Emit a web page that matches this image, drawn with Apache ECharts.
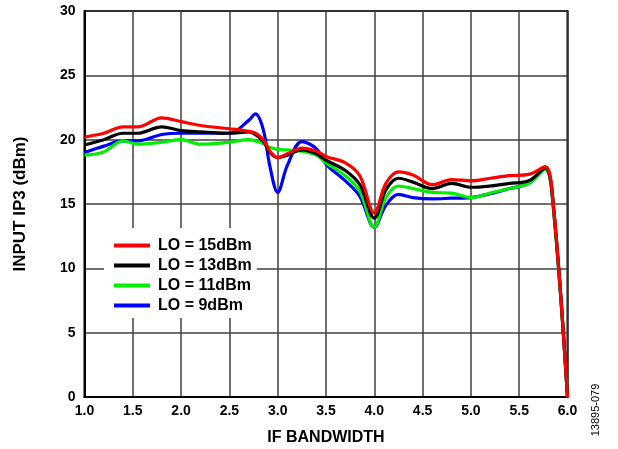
<!DOCTYPE html>
<html>
<head>
<meta charset="utf-8">
<script src="https://cdn.jsdelivr.net/npm/echarts@6/dist/echarts.min.js"></script>
<style>
  html, body { margin: 0; padding: 0; background: #fff; }
  #chart { width: 618px; height: 449px; }
</style>
</head>
<body>
<div id="chart"></div>
<script>
// IF bandwidth sample points (shared by all curves)
const bandwidth = [1.0, 1.2, 1.4, 1.55, 1.8, 2.0, 2.2, 2.5, 2.7, 2.77, 2.85, 2.92, 3.0, 3.1, 3.25, 3.4, 3.5, 3.7, 3.85, 4.0,
                   4.12, 4.25, 4.4, 4.6, 4.8, 5.0, 5.2, 5.4, 5.6, 5.77, 5.85, 6.0];

const lo15 = [20.2, 20.5, 21.0, 21.0, 21.7, 21.4, 21.1, 20.85, 20.65, 20.5, 20.0, 19.1, 18.6, 18.9, 19.35, 19.1, 18.7, 18.2, 17.2, 14.3,
              16.6, 17.5, 17.25, 16.5, 16.9, 16.8, 17.0, 17.2, 17.3, 17.9, 15.2, 0];
const lo13 = [19.6, 20.0, 20.5, 20.5, 21.0, 20.7, 20.6, 20.5, 20.6, 20.4, 19.9, 19.0, 18.6, 18.8, 19.2, 18.9, 18.4, 17.6, 16.5, 13.9,
              16.1, 17.0, 16.7, 16.2, 16.6, 16.3, 16.4, 16.6, 16.8, 17.8, 15.2, 0];
const lo11 = [18.8, 19.05, 19.9, 19.65, 19.8, 20.0, 19.65, 19.8, 20.0, 19.9, 19.7, 19.4, 19.25, 19.2, 19.1, 18.8, 18.2, 17.2, 16.0, 13.2,
              15.5, 16.4, 16.2, 15.9, 15.85, 15.5, 15.85, 16.2, 16.6, 17.7, 15.0, 0];
const lo9  = [19.0, 19.5, 19.9, 19.9, 20.4, 20.5, 20.5, 20.5, 21.5, 22.0, 20.8, 17.9, 15.9, 18.0, 19.85, 19.3, 18.1, 16.8, 15.6, 13.2,
              14.9, 15.75, 15.5, 15.4, 15.45, 15.5, 15.8, 16.2, 16.6, 17.7, 15.0, 0];

const seriesNames = ['LO = 15dBm', 'LO = 13dBm', 'LO = 11dBm', 'LO = 9dBm'];
const seriesColors = ['#ff0000', '#000000', '#00ee00', '#0000ff'];
const seriesValues = [lo15, lo13, lo11, lo9];

const font = 'Liberation Sans, Arial, sans-serif';

let myChart = echarts.init(document.getElementById('chart'));

// red is drawn on top, blue at the bottom
let series = seriesValues.map((vals, i) => ({
    name: seriesNames[i],
    type: 'line',
    smooth: 0.35,
    symbol: 'none',
    z: 10 - i,
    lineStyle: {color: seriesColors[i], width: 3.2},
    itemStyle: {color: seriesColors[i]},
    data: bandwidth.map((x, j) => [x, vals[j]])
}));

let option = {
    animation: false,
    backgroundColor: '#fff',
    textStyle: {fontFamily: font},
    grid: {
        left: 84.5,
        right: 50.5,
        top: 11,
        bottom: 52,
        outerBoundsMode: 'none',
        containLabel: false,
        show: true,
        borderColor: '#000',
        borderWidth: 2
    },
    legend: {
        data: seriesNames,
        orient: 'vertical',
        left: 104,
        top: 228,
        padding: [9, 5, 4, 10],
        backgroundColor: '#fff',
        itemWidth: 36,
        itemHeight: 4,
        itemGap: 3,
        icon: 'rect',
        textStyle: {
            fontFamily: font,
            fontWeight: 'bold',
            fontSize: 16,
            lineHeight: 17,
            color: '#000',
            padding: [0, 0, 0, 3]
        }
    },
    xAxis: {
        type: 'value',
        min: 1,
        max: 6,
        interval: 0.5,
        name: 'IF BANDWIDTH',
        nameLocation: 'middle',
        nameGap: 33,
        nameTextStyle: {fontFamily: font, fontWeight: 'bold', fontSize: 16, color: '#000'},
        axisLine: {lineStyle: {color: '#000', width: 2}},
        axisTick: {show: false},
        axisLabel: {
            margin: 7,
            fontFamily: font,
            fontWeight: 'bold',
            fontSize: 14,
            color: '#000',
            formatter: v => v.toFixed(1)
        },
        splitLine: {lineStyle: {color: '#404040', width: 1.5}}
    },
    yAxis: {
        type: 'value',
        min: 0,
        max: 30,
        interval: 5,
        name: 'INPUT IP3 (dBm)',
        nameLocation: 'middle',
        nameGap: 56,
        nameTextStyle: {fontFamily: font, fontWeight: 'bold', fontSize: 17, color: '#000'},
        axisLine: {lineStyle: {color: '#000', width: 2}},
        axisTick: {show: false},
        axisLabel: {
            margin: 9,
            fontFamily: font,
            fontWeight: 'bold',
            fontSize: 14,
            color: '#000'
        },
        splitLine: {lineStyle: {color: '#404040', width: 1.5}}
    },
    graphic: [{
        type: 'text',
        x: 596,
        y: 410,
        rotation: Math.PI / 2,
        style: {
            text: '13895-079',
            fontFamily: font,
            fontSize: 11,
            fill: '#000',
            align: 'center',
            verticalAlign: 'middle'
        }
    }],
    series: series
};
myChart.setOption(option);
</script>
</body>
</html>
